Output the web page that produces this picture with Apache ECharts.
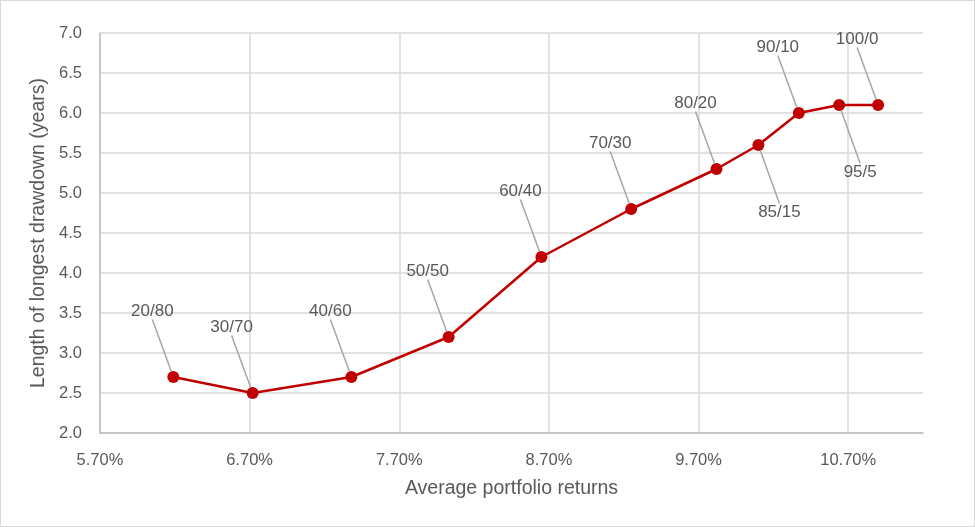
<!DOCTYPE html>
<html>
<head>
<meta charset="utf-8">
<script src="https://cdn.jsdelivr.net/npm/echarts@6/dist/echarts.min.js"></script>
<style>
  html, body { margin: 0; padding: 0; background: #fff; }
  #chart-container { position: absolute; left: 0; top: 0; width: 975px; height: 527px; }
  #frame { position: absolute; left: 0; top: 0; width: 975px; height: 527px;
           box-sizing: border-box; border: 1px solid #d9d9d9; pointer-events: none; }
</style>
</head>
<body>
<div id="chart-container"></div>
<div id="frame"></div>
<script>
var dom = document.getElementById('chart-container');
var myChart = echarts.init(dom, null, { renderer: 'canvas' });

// 数据
const allocations = ['20/80', '30/70', '40/60', '50/50', '60/40', '70/30', '80/20', '85/15', '90/10', '95/5', '100/0'];
const avgReturns = [6.19, 6.72, 7.38, 8.03, 8.65, 9.25, 9.82, 10.10, 10.37, 10.64, 10.90];
const drawdownYears = [2.7, 2.5, 2.7, 3.2, 4.2, 4.8, 5.3, 5.6, 6.0, 6.1, 6.1];

// 标签放在点下方的组合
const labelsBelow = ['85/15', '95/5'];

const TEXT_COLOR = '#595959';
const FONT = 'Liberation Sans';

const seriesData = allocations.map((name, i) => ({
  name: name,
  value: [avgReturns[i], drawdownYears[i]]
}));

var option = {
  animation: false,
  grid: { left: 100, right: 52, top: 33, bottom: 94 },
  xAxis: {
    type: 'value',
    min: 5.7,
    max: 11.2,
    interval: 1,
    name: 'Average portfolio returns',
    nameLocation: 'middle',
    nameGap: 46,
    nameTextStyle: { color: TEXT_COLOR, fontSize: 19.5, fontFamily: FONT },
    axisLine: { show: true, lineStyle: { color: '#bfbfbf', width: 1.5 } },
    axisTick: { show: false },
    axisLabel: {
      color: TEXT_COLOR, fontSize: 16.5, fontFamily: FONT, margin: 19,
      showMaxLabel: false,
      formatter: v => v.toFixed(2) + '%'
    },
    splitLine: { show: true, showMaxLine: false, lineStyle: { color: '#d9d9d9', width: 1.5 } }
  },
  yAxis: {
    type: 'value',
    min: 2,
    max: 7,
    interval: 0.5,
    name: 'Length of longest drawdown (years)',
    nameLocation: 'middle',
    nameGap: 41,
    nameTextStyle: { color: TEXT_COLOR, fontSize: 19.5, fontFamily: FONT },
    axisLine: { show: true, lineStyle: { color: '#bfbfbf', width: 1.5 } },
    axisTick: { show: false },
    axisLabel: {
      color: TEXT_COLOR, fontSize: 16.5, fontFamily: FONT, margin: 18,
      formatter: v => v.toFixed(1)
    },
    splitLine: { show: true, lineStyle: { color: '#d9d9d9', width: 1.5 } }
  },
  series: [{
    type: 'line',
    data: seriesData,
    symbol: 'circle',
    symbolSize: 12,
    itemStyle: { color: '#c00000' },
    lineStyle: { color: '#c00000', width: 2.5 },
    label: {
      show: true,
      position: 'inside',
      formatter: p => p.name,
      color: TEXT_COLOR,
      fontSize: 17,
      fontFamily: FONT
    },
    labelLine: {
      show: true,
      lineStyle: { color: '#a6a6a6', width: 1.5 }
    },
    labelLayout: function (params) {
      const below = labelsBelow.indexOf(allocations[params.dataIndex]) >= 0;
      return below ? { dx: 21, dy: 67 } : { dx: -21, dy: -66 };
    }
  }]
};

myChart.setOption(option);
window.addEventListener('resize', myChart.resize);
</script>
</body>
</html>
